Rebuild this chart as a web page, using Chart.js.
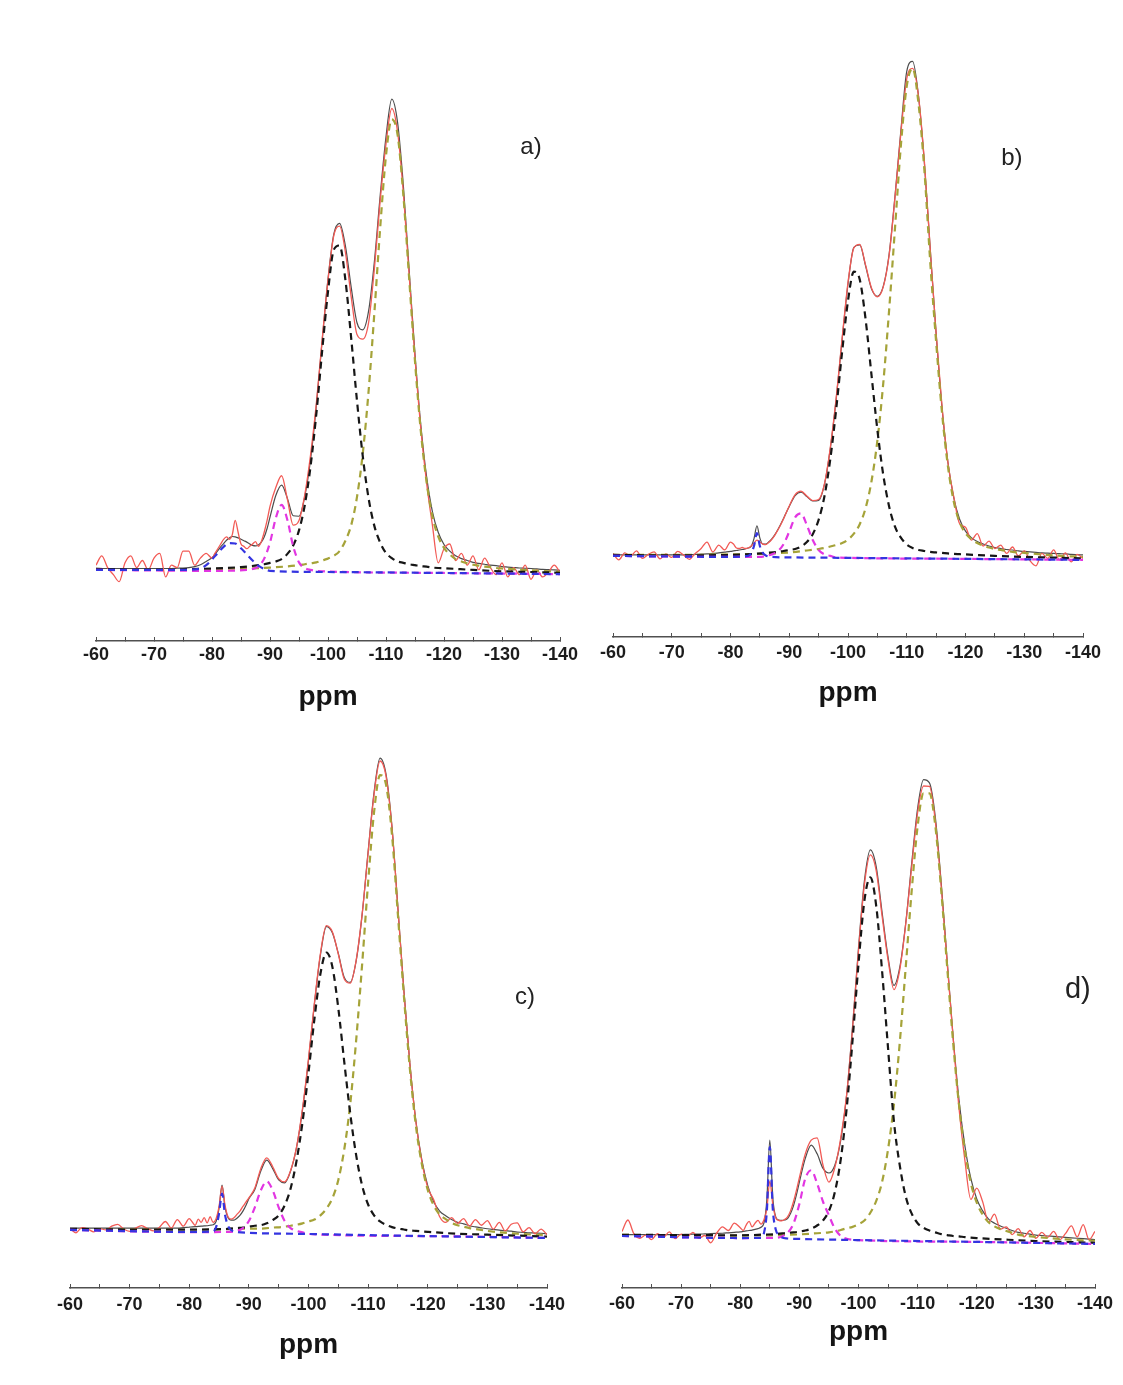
<!DOCTYPE html>
<html>
<head>
<meta charset="utf-8">
<script src="https://cdn.jsdelivr.net/npm/chart.js@4.4.1/dist/chart.umd.min.js"></script>
<style>
  html, body { margin: 0; padding: 0; background: #fff; }
  body { position: relative; width: 1123px; height: 1385px; overflow: hidden; }
  canvas { position: absolute; }
</style>
</head>
<body>
<canvas id="specA"></canvas>
<canvas id="specB"></canvas>
<canvas id="specC"></canvas>
<canvas id="specD"></canvas>
<script>
// chemical shift grid (ppm) for the measured and fitted spectra; finer around -80..-90
const ppmGrid = [-60,-61,-62,-63,-64,-65,-66,-67,-68,-69,-70,-71,-72,-73,-74,-75,-76,-77,-78,-79,-80,
  -80.5,-81,-81.5,-82,-82.5,-83,-83.5,-84,-84.5,-85,-85.5,-86,-86.5,-87,-87.5,-88,-88.5,-89,-89.5,-90,
  -91,-92,-93,-94,-95,-96,-97,-98,-99,-100,
  -101,-102,-103,-104,-105,-106,-107,-108,-109,-110,
  -111,-112,-113,-114,-115,-116,-117,-118,-119,-120,
  -121,-122,-123,-124,-125,-126,-127,-128,-129,-130,
  -131,-132,-133,-134,-135,-136,-137,-138,-139,-140];

// ---- sample a ----
const expA = [1.0,3.0,0.5,-1.0,-2.5,1.5,3.0,0.5,2.0,0.0,2.5,3.5,-1.5,1.0,0.5,4.0,4.0,1.0,2.5,3.5,2.5,
  3.5,4.5,5.5,6.5,7.0,6.5,7.5,10.5,8.0,5.5,5.0,4.5,5.0,5.5,6.0,5.0,6.0,8.0,10.5,13.5,
  17.5,20.0,15.0,9.5,10.5,16.0,24.5,35.5,49.0,61.5,
  71.0,73.0,67.5,58.0,50.0,49.0,52.5,64.0,78.5,90.5,
  98.0,93.0,80.0,62.5,45.0,30.0,18.5,9.5,1.5,4.5,
  5.5,2.0,3.5,1.0,3.0,0.0,2.5,0.5,-1.0,1.5,
  -1.5,0.5,-1.0,1.0,-2.0,0.0,-1.5,-0.5,1.0,-0.5];
const fitA = [0.3,0.3,0.3,0.3,0.3,0.3,0.3,0.3,0.3,0.3,0.3,0.3,0.3,0.3,0.35,0.4,0.5,0.7,1.1,1.8,2.6,
  3.3,4.1,4.9,5.6,6.3,6.8,7.1,7.0,6.8,6.5,6.2,5.9,5.5,5.2,5.1,5.3,5.9,7.0,8.8,11.2,
  15.8,18.0,15.2,11.5,11.4,15.6,23.5,35.0,48.8,61.8,
  71.3,73.6,68.8,60.0,52.5,51.0,55.0,65.5,79.5,92.0,
  100.0,95.0,81.5,63.5,45.8,30.8,19.8,12.4,8.0,5.4,
  4.0,3.0,2.4,2.0,1.6,1.4,1.2,1.0,0.9,0.7,
  0.6,0.5,0.4,0.35,0.3,0.2,0.1,0.05,0.0,-0.1];
const q4PpmA = [-60,-70,-80,-90,-95,-96,-97,-98,-99,-100,-101,-102,-103,-104,-105,-106,-107,-108,-109,-110,
  -111,-112,-113,-114,-115,-116,-117,-118,-119,-120,-121,-122,-123,-124,-125,-126,-127,-128,-129,-130,-135,-140];
const q4A = [0.2,0.15,0.2,0.5,1.0,1.2,1.4,1.6,2.0,2.4,3.0,4.0,6.2,9.5,15.5,24.8,38.0,54.7,72.7,88.0,
  95.7,92.4,79.5,61.8,44.3,29.5,18.7,11.4,7.1,4.7,3.3,2.3,1.8,1.4,1.1,0.9,0.7,0.6,0.4,0.3,-0.1,-0.4];
const q3PpmA = [-60,-70,-80,-85,-88,-89,-90,-91,-92,-93,-94,-95,-96,-97,-98,-99,-100,-101,-102,-103,-104,
  -105,-106,-107,-108,-109,-110,-111,-112,-113,-114,-115,-116,-117,-118,-119,-120,-125,-130,-135,-140];
const q3A = [0.2,0.1,0.3,0.6,1.0,1.2,1.5,1.8,2.3,3.4,5.2,8.4,13.8,22.1,33.3,46.6,59.1,68.0,68.9,61.6,49.2,
  35.9,24.1,15.2,9.3,5.8,3.6,2.5,1.8,1.5,1.2,1.0,0.8,0.7,0.5,0.4,0.35,0.0,-0.3,-0.45,-0.6];
const q2PpmA = [-60,-80,-86,-87,-88,-89,-90,-91,-92,-93,-94,-95,-96,-97,-98,-100,-120,-140];
const q2A = [0,-0.2,0.0,0.2,0.7,2.4,5.8,11.0,13.8,10.6,5.0,1.6,0.4,0.0,-0.2,-0.35,-0.65,-0.9];
const q1PpmA = [-60,-75,-78,-79,-80,-81,-82,-83,-84,-85,-86,-87,-88,-89,-90,-100,-120,-140];
const q1A = [0,0.0,0.3,1.0,2.2,3.6,4.9,5.7,5.6,4.6,3.3,2.0,0.9,0.2,-0.2,-0.45,-0.65,-0.9];

// ---- sample b ----
const expB = [0.5,-0.8,0.6,0.0,1.0,-0.5,0.3,0.8,-0.6,0.4,-0.3,0.9,0.2,-0.7,0.5,1.5,2.8,0.8,2.2,1.2,2.8,
  2.4,1.6,1.5,1.7,1.5,1.6,2.0,2.6,3.2,2.8,2.4,2.3,2.7,3.3,4.1,5.1,6.2,7.4,8.8,10.1,
  12.4,13.1,12.1,11.2,11.4,14.6,22.0,32.0,44.0,55.3,
  62.3,63.0,58.8,54.2,52.4,54.4,60.8,72.5,85.5,96.5,
  98.6,93.0,79.8,62.0,45.0,30.3,19.0,12.0,6.5,5.8,
  3.2,4.5,2.0,3.0,1.5,2.2,0.5,1.8,0.0,1.0,
  -1.0,-2.0,0.5,-0.5,1.2,-0.8,0.6,-1.2,0.3,-0.5];
const fitB = [0.2,0.2,0.2,0.2,0.2,0.2,0.2,0.2,0.2,0.2,0.2,0.2,0.2,0.25,0.3,0.35,0.4,0.5,0.6,0.75,0.9,
  1.0,1.1,1.2,1.3,1.4,1.6,1.9,3.5,6.1,3.6,2.4,2.4,2.8,3.4,4.2,5.2,6.3,7.5,8.8,10.0,
  12.2,12.9,12.0,11.1,11.2,14.5,21.8,31.8,43.8,55.0,
  62.4,62.9,58.6,54.0,52.5,54.5,61.0,72.8,86.0,98.0,
  100.0,93.0,79.5,62.0,45.0,30.0,19.0,11.8,7.4,5.0,
  3.7,2.9,2.4,2.0,1.7,1.5,1.3,1.2,1.0,0.9,
  0.8,0.7,0.6,0.55,0.5,0.45,0.4,0.3,0.25,0.2];
const q4PpmB = [-60,-70,-80,-85,-90,-93,-95,-96,-97,-98,-99,-100,-101,-102,-103,-104,-105,-106,-107,-108,-109,-110,
  -111,-112,-113,-114,-115,-116,-117,-118,-119,-120,-121,-122,-123,-124,-125,-126,-127,-128,-129,-130,-135,-140];
const q4B = [0.2,0.2,0.3,0.4,0.7,1.1,1.4,1.6,1.9,2.2,2.6,3.3,4.5,6.4,9.7,15.1,23.3,34.9,49.7,66.3,83.0,95.0,
  98.6,91.5,78.0,59.4,43.3,29.0,18.2,11.0,6.8,4.6,3.4,2.6,2.1,1.7,1.4,1.2,1.0,0.8,0.7,0.6,0.1,-0.2];
const q3PpmB = [-60,-70,-80,-84,-86,-88,-89,-90,-91,-92,-93,-94,-95,-96,-97,-98,-99,-100,-101,-102,-103,-104,
  -105,-106,-107,-108,-109,-110,-111,-112,-113,-114,-115,-116,-117,-118,-119,-120,-125,-130,-135,-140];
const q3B = [0.2,0.1,0.2,0.4,0.6,0.8,1.0,1.2,1.4,1.9,2.8,4.4,7.3,12.1,19.7,29.8,41.3,51.6,57.5,55.9,47.8,36.6,
  25.5,16.4,10.0,5.9,3.7,2.3,1.6,1.2,1.0,0.8,0.7,0.6,0.5,0.4,0.35,0.3,0.0,-0.2,-0.35,-0.5];
const q2PpmB = [-60,-80,-85,-86,-87,-88,-89,-90,-91,-92,-93,-94,-95,-96,-97,-98,-100,-120,-140];
const q2B = [0,-0.2,-0.2,0.0,0.3,0.9,2.3,4.9,7.8,8.6,6.2,3.2,1.2,0.3,0.0,-0.3,-0.4,-0.6,-0.8];
const q1PpmB = [-60,-80,-83,-83.5,-84,-84.5,-85,-85.5,-86,-87,-90,-100,-120,-140];
const q1B = [0,-0.2,0.0,0.5,2.0,4.6,2.0,0.6,0.1,-0.2,-0.3,-0.4,-0.6,-0.8];

// ---- sample c ----
const expC = [0.3,-0.6,0.5,0.2,-0.4,0.3,0.0,0.8,1.2,0.2,-0.3,0.4,0.9,0.3,-0.2,0.6,1.8,0.4,2.2,0.8,2.4,
  1.7,1.0,2.3,1.6,2.6,1.5,2.8,1.6,2.4,5.0,9.3,5.2,2.8,2.3,2.6,3.3,4.0,5.0,5.9,6.8,
  8.9,13.0,15.3,13.4,10.9,10.2,12.6,17.6,25.8,36.3,
  48.2,58.6,64.5,63.2,58.5,53.2,52.3,57.2,67.0,80.0,
  92.4,99.4,96.2,85.2,68.0,50.5,35.2,23.0,14.6,9.0,
  6.4,2.8,1.6,2.6,1.4,2.4,0.8,2.2,1.0,2.0,
  0.2,1.6,-0.2,1.2,1.5,-0.4,0.5,-0.8,0.2,-1.0];
const fitC = [0.4,0.4,0.4,0.4,0.4,0.4,0.4,0.4,0.4,0.4,0.4,0.4,0.4,0.4,0.4,0.4,0.4,0.4,0.4,0.5,0.6,
  0.65,0.7,0.75,0.8,0.85,0.9,1.0,1.1,1.8,4.6,9.5,4.8,2.6,2.1,2.1,2.5,3.1,4.0,5.2,6.6,
  8.6,12.5,14.8,13.0,10.6,10.0,12.5,17.5,25.5,36.0,
  48.0,58.3,64.3,63.0,58.6,53.5,52.5,57.1,66.9,80.2,
  92.8,100.0,96.6,85.5,68.2,50.8,35.3,23.2,14.9,9.4,
  6.0,4.0,3.0,2.2,1.6,1.3,0.9,0.65,0.45,0.26,
  0.1,-0.05,-0.15,-0.25,-0.45,-0.5,-0.6,-0.65,-0.7,-0.8];
const q4PpmC = [-60,-70,-80,-85,-90,-92,-94,-96,-97,-98,-99,-100,-101,-102,-103,-104,-105,-106,-107,-108,-109,
  -110,-111,-112,-113,-114,-115,-116,-117,-118,-119,-120,-121,-122,-123,-124,-125,-126,-127,-128,-130,-135,-140];
const q4C = [0.2,0.1,0.0,0.1,0.3,0.3,0.5,0.7,0.9,1.1,1.4,1.8,2.2,3.1,4.5,6.7,10.6,17.1,26.7,40.3,56.4,
  73.7,88.6,96.4,94.4,83.8,66.7,49.6,34.2,22.2,14.0,8.5,5.2,3.3,2.3,1.5,1.0,0.7,0.4,0.2,-0.2,-0.8,-1.1];
const q3PpmC = [-60,-70,-80,-86,-88,-89,-90,-91,-92,-93,-94,-95,-96,-97,-98,-99,-100,-101,-102,-103,-104,
  -105,-106,-107,-108,-109,-110,-111,-112,-113,-114,-115,-116,-117,-118,-120,-125,-130,-135,-140];
const q3C = [0.25,0.1,0.1,0.2,0.4,0.5,0.7,0.9,1.0,1.4,2.1,3.1,5.2,8.8,14.7,22.9,33.4,44.8,54.3,58.8,55.8,
  47.0,35.6,24.7,15.8,9.4,5.4,3.1,1.8,1.1,0.6,0.3,0.1,-0.1,-0.2,-0.4,-0.8,-1.0,-1.2,-1.4];
const q2PpmC = [-60,-80,-87,-88,-89,-90,-91,-92,-93,-94,-95,-96,-97,-98,-99,-100,-120,-140];
const q2C = [0,-0.45,-0.4,-0.2,0.4,1.9,4.8,8.4,10.3,8.4,4.8,1.9,0.4,-0.2,-0.5,-0.85,-1.3,-1.7];
const q1PpmC = [-60,-80,-84,-84.5,-85,-85.5,-86,-86.5,-87,-88,-90,-100,-120,-140];
const q1C = [0,-0.4,-0.3,0.6,3.5,7.7,3.2,0.9,0.0,-0.4,-0.6,-0.85,-1.3,-1.7];

// ---- sample d ----
const expD = [1.0,3.5,0.5,-0.5,0.2,-0.8,0.5,-0.3,0.9,-0.6,0.4,-0.2,0.8,-0.5,0.1,-1.5,0.6,2.0,1.2,2.8,1.8,
  1.2,2.4,3.2,2.0,2.8,3.4,2.6,3.5,6.0,12.0,7.0,4.0,3.4,3.3,3.6,4.2,5.5,7.5,10.0,12.8,
  18.0,21.0,21.5,15.5,11.8,15.0,21.5,31.0,45.5,62.5,
  77.0,83.5,80.0,70.0,60.5,54.0,58.5,68.5,81.0,92.8,
  98.6,98.5,90.8,76.5,59.8,43.5,28.0,16.5,8.0,10.5,
  7.5,3.0,4.8,1.5,2.0,0.3,1.6,-0.2,1.2,-0.5,
  0.8,-0.3,1.0,-0.8,0.5,2.2,-0.2,2.5,-0.8,1.0];
const fitD = [0.3,0.3,0.3,0.3,0.3,0.3,0.3,0.3,0.3,0.3,0.3,0.35,0.4,0.4,0.45,0.5,0.55,0.6,0.7,0.8,0.9,
  1.0,1.1,1.2,1.3,1.45,1.6,1.9,2.8,8.0,21.0,8.5,4.2,3.5,3.4,3.5,3.8,4.9,6.6,9.0,11.8,
  17.0,19.9,18.0,14.8,13.8,15.5,21.0,31.0,46.0,63.1,
  77.8,84.6,80.9,70.8,61.1,54.9,59.0,68.7,81.7,93.7,
  100.0,99.3,91.7,77.2,60.3,43.7,29.8,19.7,12.6,8.1,
  5.5,3.7,2.8,2.2,1.7,1.2,0.8,0.6,0.4,0.2,
  0.1,0.0,-0.1,-0.2,-0.3,-0.4,-0.5,-0.6,-0.7,-0.8];
const q4PpmD = [-60,-70,-80,-85,-90,-93,-95,-96,-97,-98,-99,-100,-101,-102,-103,-104,-105,-106,-107,-108,-109,
  -110,-111,-112,-113,-114,-115,-116,-117,-118,-119,-120,-121,-122,-123,-124,-125,-126,-127,-128,-130,-135,-140];
const q4D = [0.25,0.1,0.1,0.15,0.35,0.6,0.8,1.0,1.3,1.7,2.0,2.6,3.4,5.1,7.7,11.9,19.0,28.9,42.7,59.1,75.7,
  89.8,97.0,97.0,89.8,75.6,58.9,42.5,28.7,18.7,11.6,7.3,4.7,3.0,2.1,1.5,1.1,0.7,0.3,0.1,-0.2,-0.75,-1.05];
const q3PpmD = [-60,-70,-80,-84,-86,-88,-89,-90,-91,-92,-93,-94,-95,-96,-97,-98,-99,-100,-101,-102,-103,
  -104,-105,-106,-107,-108,-109,-110,-111,-112,-113,-114,-115,-116,-117,-118,-120,-125,-130,-140];
const q3D = [0.25,0.2,0.15,0.3,0.4,0.7,0.8,0.95,1.2,1.6,2.3,3.4,5.5,9.6,16.8,28.0,43.0,59.6,73.5,78.6,72.3,
  57.9,41.1,25.0,15.3,8.6,4.9,2.8,1.8,1.2,0.8,0.4,0.2,0.0,-0.1,-0.25,-0.45,-0.8,-1.1,-1.5];
const q2PpmD = [-60,-80,-86,-87,-88,-89,-90,-91,-92,-93,-94,-95,-96,-97,-98,-100,-120,-140];
const q2D = [0,-0.45,-0.4,-0.1,0.7,2.7,7.0,12.6,14.4,11.5,7.5,4.5,1.6,0.0,-0.6,-0.9,-1.3,-1.75];
const q1PpmD = [-60,-80,-83.5,-84,-84.5,-85,-85.5,-86,-86.5,-87,-88,-90,-100,-120,-140];
const q1D = [0,-0.45,-0.4,0.6,5.5,19.5,6.0,1.4,0.3,-0.3,-0.55,-0.65,-0.9,-1.3,-1.75];

Chart.defaults.font.family = '"Liberation Sans", Arial, Helvetica, sans-serif';

// dashed component colours: Q1, Q2, Q3, Q4
const partColors = ['#3434e0', '#e236e2', '#161616', '#a5a339'];

const pts = (xs, ys) => xs.map((x, i) => ({ x, y: ys[i] }));

// writes the sample letter inside the plot, placed on the data scales
const panelTag = {
  id: 'panelTag',
  afterDatasetsDraw(chart, args, opts) {
    const { ctx, scales } = chart;
    ctx.save();
    ctx.font = opts.size + 'px "Liberation Sans", Arial, sans-serif';
    ctx.fillStyle = '#222';
    ctx.textAlign = 'center';
    ctx.textBaseline = 'middle';
    ctx.fillText(opts.text, scales.x.getPixelForValue(opts.ppm), scales.y.getPixelForValue(opts.at));
    ctx.restore();
  }
};

function drawPanel(p) {
  const padL = 30, padR = p.padR || 30, padT = 10;
  const cv = document.getElementById(p.id);
  cv.width = p.right - p.left + padL + padR;
  cv.height = p.bottom - p.top + padT + p.axisH;
  cv.style.left = (p.left - padL) + 'px';
  cv.style.top = (p.top - padT) + 'px';

  const dashed = p.parts.map(([xs, ys], i) => ({
    data: pts(xs, ys),
    borderColor: partColors[i],
    borderWidth: 2.2,
    borderDash: [7, 5]
  }));

  new Chart(cv, {
    type: 'line',
    data: {
      datasets: [
        ...dashed,
        { data: pts(ppmGrid, p.exp), borderColor: '#f25a55', borderWidth: 1.3 },
        { data: pts(ppmGrid, p.fit), borderColor: 'rgba(45,45,45,0.85)', borderWidth: 1.2 }
      ]
    },
    options: {
      responsive: false,
      animation: false,
      devicePixelRatio: 1,
      layout: { padding: { left: padL, right: padR, top: padT, bottom: 0 } },
      elements: {
        point: { radius: 0 },
        line: { cubicInterpolationMode: 'monotone', fill: false }
      },
      plugins: { legend: { display: false }, tooltip: { enabled: false }, panelTag: p.tag },
      scales: {
        x: {
          type: 'linear', reverse: true, min: -140, max: -60,
          afterFit: s => { s.height = p.axisH; },
          border: { display: true, color: '#505050', width: 1.5 },
          grid: { display: true, drawOnChartArea: false, drawTicks: true, tickLength: -4, color: '#505050' },
          ticks: {
            stepSize: 5, maxTicksLimit: 20, autoSkip: false, maxRotation: 0,
            padding: p.tickPad, color: '#1c1c1c',
            font: { size: 18, weight: 'bold' },
            callback: v => (v % 10 === 0 ? String(v) : '')
          },
          title: { display: true, text: 'ppm', color: '#151515', padding: 0, font: { size: 28, weight: 'bold' } }
        },
        y: { display: false, min: p.yMin, max: p.yMax }
      }
    },
    plugins: [panelTag]
  });
}

drawPanel({ id: 'specA', left: 96, right: 560, top: 52, bottom: 641, yMin: -15.1, yMax: 110,
  tickPad: 7.5, axisH: 73, exp: expA, fit: fitA,
  parts: [[q1PpmA, q1A], [q2PpmA, q2A], [q3PpmA, q3A], [q4PpmA, q4A]],
  tag: { text: 'a)', ppm: -135, at: 89.8, size: 24 } });

drawPanel({ id: 'specB', left: 613, right: 1083, top: 12, bottom: 637, yMin: -16.4, yMax: 110,
  tickPad: 9.5, axisH: 73, exp: expB, fit: fitB,
  parts: [[q1PpmB, q1B], [q2PpmB, q2B], [q3PpmB, q3B], [q4PpmB, q4B]],
  tag: { text: 'b)', ppm: -127.9, at: 80.4, size: 24 } });

drawPanel({ id: 'specC', left: 70, right: 547, top: 711, bottom: 1288, yMin: -12.3, yMax: 110,
  tickPad: 10.2, axisH: 74, exp: expC, fit: fitC,
  parts: [[q1PpmC, q1C], [q2PpmC, q2C], [q3PpmC, q3C], [q4PpmC, q4C]],
  tag: { text: 'c)', ppm: -136.3, at: 49.2, size: 24 } });

drawPanel({ id: 'specD', left: 622, right: 1095, top: 734, bottom: 1288, yMin: -11.4, yMax: 110,
  tickPad: 9.7, axisH: 61, padR: 28, exp: expD, fit: fitD,
  parts: [[q1PpmD, q1D], [q2PpmD, q2D], [q3PpmD, q3D], [q4PpmD, q4D]],
  tag: { text: 'd)', ppm: -137.1, at: 53.9, size: 29 } });
</script>
</body>
</html>
